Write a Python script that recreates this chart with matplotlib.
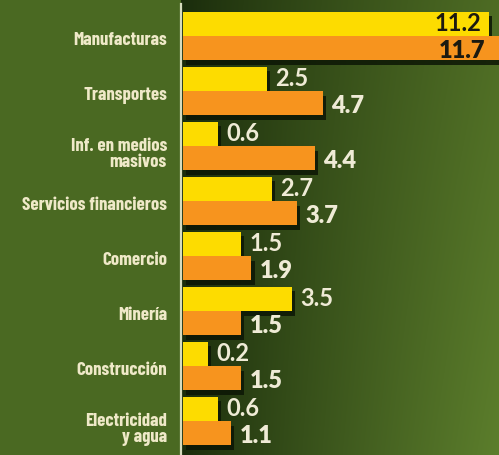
import numpy as np
import matplotlib
matplotlib.use("Agg")
import matplotlib.pyplot as plt

categories = ["Manufacturas", "Transportes", "Inf. en medios\nmasivos",
              "Servicios financieros", "Comercio", "Minería",
              "Construcción", "Electricidad\ny agua"]
serie_amarilla = [11.2, 2.5, 0.6, 2.7, 1.5, 3.5, 0.2, 0.6]
serie_naranja = [11.7, 4.7, 4.4, 3.7, 1.9, 1.5, 1.5, 1.1]

W, H, DPI = 499, 456, 100
fig = plt.figure(figsize=(W / DPI, H / DPI), dpi=DPI)

# background
bg = fig.add_axes([0, 0, 1, 1])
xs = np.arange(W)[None, :].astype(float)
ys = np.arange(H)[:, None].astype(float)
panel = np.array([75, 106, 35]) / 255.0
dark = np.array([26, 44, 12]) / 255.0
light_top = np.array([78, 108, 36]) / 255.0
light_bot = np.array([92, 126, 44]) / 255.0
t = np.clip((xs - 181) / (W - 181), 0, 1) ** 0.85
v = ys / H
light = light_top[None, None, :] * (1 - v[..., None]) + light_bot[None, None, :] * v[..., None]
img = dark[None, None, :] * (1 - t[..., None]) + light * t[..., None]
img = np.where((xs < 181)[..., None], panel[None, None, :], img)
bg.imshow(img, extent=[0, 1, 0, 1], aspect="auto", transform=bg.transAxes)
bg.set_xlim(0, 1)
bg.set_ylim(0, 1)
bg.axis("off")
bg.plot([181 / W, 181 / W], [0, 1 - 5 / H], color="#d6dbbd", lw=1.6,
        transform=bg.transAxes)

# bars axes
ax = fig.add_axes([183 / W, 0, (W - 183) / W, 1])
ax.patch.set_alpha(0)
base = 0.784
n = len(categories)
ypos = np.arange(n)
h = 0.445
off = h / 2
amar = np.array(serie_amarilla)
nar = np.array(serie_naranja)

dx, dy = 0.12, 0.09
shadow = "#0c1605"
ax.barh(ypos - off + dy, amar + base, left=-base + dx, height=h, color=shadow, alpha=0.85, lw=0)
ax.barh(ypos + off + dy, nar + base, left=-base + dx, height=h, color=shadow, alpha=0.85, lw=0)
ax.barh(ypos - off, amar + base, left=-base, height=h, color="#fddc00", lw=0)
ax.barh(ypos + off, nar + base, left=-base, height=h, color="#f7941e", lw=0)

ax.set_xlim(-base, (W - 203) / 25.5)
ax.set_ylim((H - 37) / 55, -37 / 55)
ax.axis("off")

numfont = "Lato"
for i in range(n):
    a, b = amar[i], nar[i]
    if a > 8:
        ax.annotate(f"{a:.1f}", (a, i - off), xytext=(-5, 1), textcoords="offset points",
                    ha="right", va="center", fontsize=17, color="#1c1a10",
                    family=numfont, fontweight="bold")
    else:
        ax.annotate(f"{a:.1f}", (a, i - off), xytext=(6, 1), textcoords="offset points",
                    ha="left", va="center", fontsize=17, color="#efebd6",
                    family=numfont, fontweight="bold")
    if b > 8:
        ax.annotate(f"{b:.1f}", (min(b, 11.3), i + off), xytext=(-4, -1), textcoords="offset points",
                    ha="right", va="center", fontsize=17, color="#1c1a10",
                    family=numfont, fontweight="heavy")
    else:
        ax.annotate(f"{b:.1f}", (b, i + off), xytext=(6, -1), textcoords="offset points",
                    ha="left", va="center", fontsize=17, color="#efebd6",
                    family=numfont, fontweight="heavy")

# category labels
for i, c in enumerate(categories):
    lines = c.count("\n") + 1
    ax.annotate(c, xy=(0, i + 0.06 + 0.08 * (lines - 1)), xycoords=("figure pixels", "data"),
                xytext=(167, 0), textcoords=("figure pixels", "offset points"),
                ha="right", va="center", fontsize=13.5, color="#efe9c8",
                family="Barlow Condensed", fontweight="bold",
                linespacing=0.9, multialignment="right")

fig.savefig("out.png", dpi=DPI)
